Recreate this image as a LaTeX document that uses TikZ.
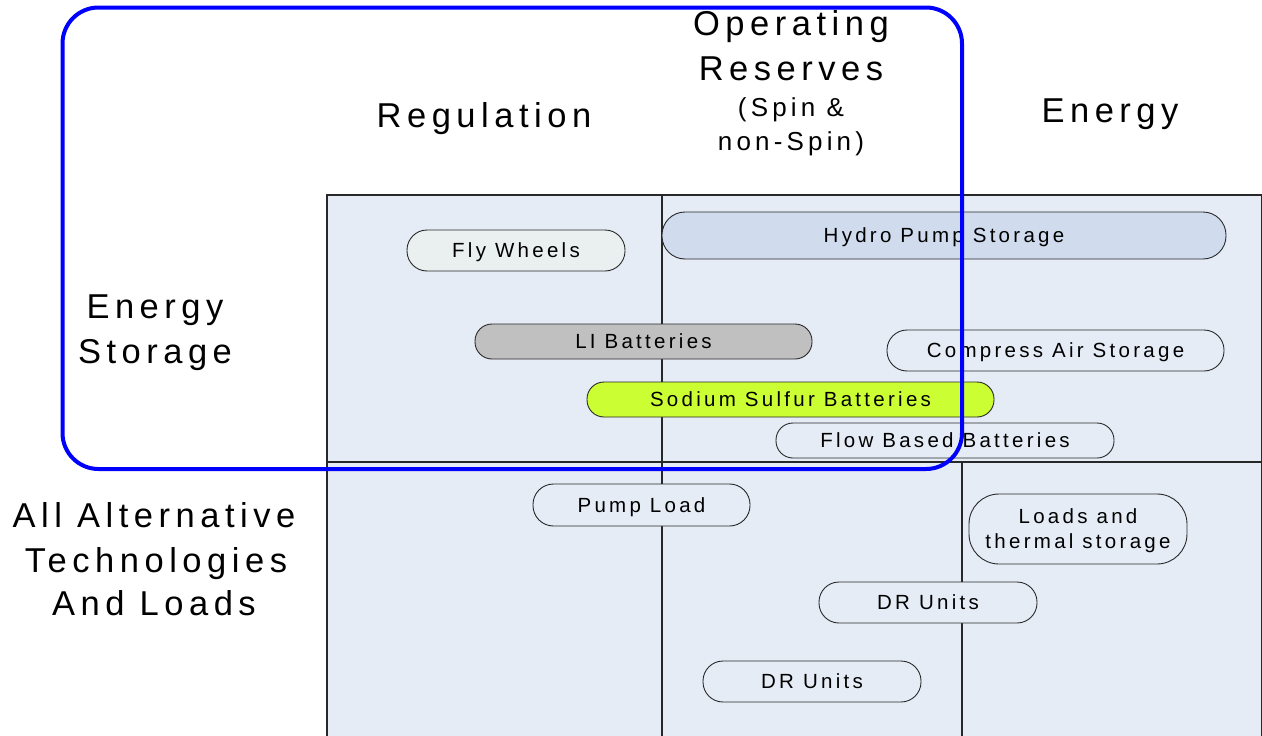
\documentclass[tikz,border=0pt]{standalone}
\usepackage{fontspec}
\setmainfont{Liberation Sans}
\newfontfamily\spacedfont{Liberation Sans}[LetterSpace=16]
\newfontfamily\pillspacedfont{Liberation Sans}[LetterSpace=16]
\newcommand{\headfont}{\spacedfont\fontsize{34.5}{44}\selectfont}
\newcommand{\subheadfont}{\spacedfont\fontsize{26}{34}\selectfont}
\newcommand{\pillfont}{\pillspacedfont\fontsize{20.5}{25}\selectfont}

\definecolor{cellbg}{RGB}{230,236,246}
\definecolor{gridgray}{RGB}{40,40,40}
\definecolor{flyfill}{RGB}{234,240,240}
\definecolor{lifill}{RGB}{192,192,192}
\definecolor{nasfill}{RGB}{204,255,51}
\definecolor{hydrofill}{RGB}{208,220,238}
\definecolor{framblue}{RGB}{0,0,255}

\tikzset{
  gridline/.style={draw=gridgray, line width=1.1pt},
  pillbox/.style={draw=gridgray, line width=0.9pt, fill=cellbg, inner sep=0pt,
                  align=center, font=\pillfont, text depth=0pt},
  heading/.style={anchor=base, inner sep=0pt, font=\headfont},
  subheading/.style={anchor=base, inner sep=0pt, font=\subheadfont},
  servicebox/.style={draw=framblue, line width=4pt, rounded corners=36pt}
}

\begin{document}
\begin{tikzpicture}[x=1pt,y=-1pt]
  \useasboundingbox (0,0) rectangle (1262,736);
  \clip (0,0) rectangle (1262,736);

  % matrix of services vs. technologies
  \fill[cellbg] (327,195) rectangle (1262,745);
  \draw[gridline] (327,745) -- (327,195) -- (1261.5,195) -- (1261.5,745);
  \draw[gridline] (327,462) -- (1262,462);
  \draw[gridline] (662,195) -- (662,745);
  \draw[gridline] (962,462) -- (962,745);

  % technologies
  \node[pillbox, fill=flyfill, minimum width=218pt, minimum height=41pt, rounded corners=20pt]
    (fly) at (516,250.5) {Fly Wheels};
  \node[pillbox, fill=hydrofill, minimum width=564pt, minimum height=47pt, rounded corners=23pt]
    (hydro) at (944,235.5) {Hydro Pump Storage};
  \node[pillbox, fill=lifill, minimum width=337pt, minimum height=35pt, rounded corners=17pt]
    (li) at (643.5,341.5) {LI Batteries};
  \node[pillbox, minimum width=337pt, minimum height=41pt, rounded corners=20pt]
    (cas) at (1055.5,350.5) {Compress Air Storage};
  \node[pillbox, fill=nasfill, minimum width=407pt, minimum height=35pt, rounded corners=17pt]
    (nas) at (790.5,399.5) {Sodium Sulfur Batteries};
  \node[pillbox, minimum width=338pt, minimum height=35pt, rounded corners=17pt]
    (flow) at (945,440.5) {Flow Based Batteries};
  \node[pillbox, minimum width=217pt, minimum height=42pt, rounded corners=20.5pt]
    (pump) at (641.5,505) {Pump Load};
  \node[pillbox, minimum width=218pt, minimum height=70pt, rounded corners=30pt]
    (loads) at (1078,529) {Loads and\\thermal storage};
  \node[pillbox, minimum width=218pt, minimum height=41pt, rounded corners=20pt]
    (dra) at (928,602.5) {DR Units};
  \node[pillbox, minimum width=218pt, minimum height=41pt, rounded corners=20pt]
    (drb) at (812,681.5) {DR Units};

  % storage services outline
  \draw[servicebox] (62.5,7.5) rectangle (962,469);

  % column headings
  \node[heading] (reg) at (484,127) {Regulation};
  \node[heading] (opa) at (791,35) {Operating};
  \node[heading] (opb) at (791,80) {Reserves};
  \node[subheading] (opc) at (791,116) {(Spin \&};
  \node[subheading] (opd) at (791,150) {non-Spin)};
  \node[heading] (en) at (1110,122) {Energy};

  % row headings
  \node[heading] (esa) at (155,318) {Energy};
  \node[heading] (esb) at (155,363) {Storage};
  \node[heading] (alta) at (154,527) {All Alternative};
  \node[heading] (altb) at (156,572) {Technologies};
  \node[heading] (altc) at (154,615) {And Loads};
\end{tikzpicture}
\end{document}
